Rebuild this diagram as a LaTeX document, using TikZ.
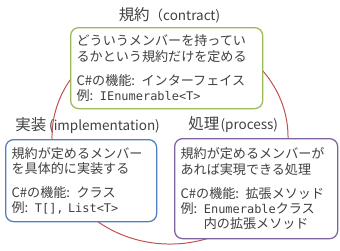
\documentclass[tikz,border=0pt]{standalone}
\usepackage{fontspec}
\setmainfont{Noto Sans CJK JP}
\setmonofont{DejaVu Sans Mono}
\usetikzlibrary{positioning}
\definecolor{ringred}{HTML}{C0504D}
\definecolor{cgreen}{HTML}{9BBB59}
\definecolor{cblue}{HTML}{4F81BD}
\definecolor{cpurple}{HTML}{8064A2}
\definecolor{ink}{HTML}{404040}
\tikzset{
  card/.style={draw=#1, line width=0.9pt, rounded corners=0.2cm, fill=white,
               anchor=north west, align=left, inner xsep=0.15cm, inner ysep=0.1cm,
               text=ink, font=\fontsize{9.3}{10.7}\selectfont},
  ttl/.style={text=ink, font=\fontsize{11}{12}\selectfont, inner sep=0pt},
  ring/.style={draw=ringred, line width=0.7pt},
}
\newcommand{\src}[1]{{\ttfamily\fontsize{8.5}{10.7}\selectfont #1}}
\newcommand{\lat}[1]{{\fontsize{9.6}{12}\selectfont #1}}

\begin{document}
\begin{tikzpicture}[x=0.025cm, y=-0.025cm]
  \useasboundingbox (0,0) rectangle (340,250);
  % cycle behind the cards
  \draw[ring] (170,137) ellipse [x radius=2.95cm, y radius=2.675cm];
  % contract
  \node[card=cgreen, text width=4.5cm, minimum height=2.025cm] (contract) at (70,27)
    {どういうメンバーを持ってい\\るかという規約だけを定める\\[6.5pt]
     C\#の機能: インターフェイス\\例: \src{IEnumerable<T>}};
  \node[ttl, above=0.1cm of contract, xshift=0.07cm] (lblC) {規約\lat{（contract)}};
  % implementation
  \node[card=cblue, text width=3.475cm, minimum height=2.05cm] (impl) at (5,139)
    {規約が定めるメンバー\\を具体的に実装する\\[6.5pt]
     C\#の機能: クラス\\例: \src{T[], List<T>}};
  \node[ttl, above right=0.13cm and 0.25cm of impl.north west] (lblI) {実装\lat{\hspace{0.22em}(implementation)}};
  % process
  \node[card=cpurple, text width=3.775cm, minimum height=2.5cm] (proc) at (174,138)
    {規約が定めるメンバーが\\あれば実現できる処理\\[6.5pt]
     C\#の機能: 拡張メソッド\\例: \src{Enumerable}クラス\\\phantom{例: }内の拡張メソッド};
  \node[ttl, above right=0.13cm and 0.35cm of proc.north west] (lblP) {処理\lat{\hspace{0.1em}(process)}};
\end{tikzpicture}
\end{document}
